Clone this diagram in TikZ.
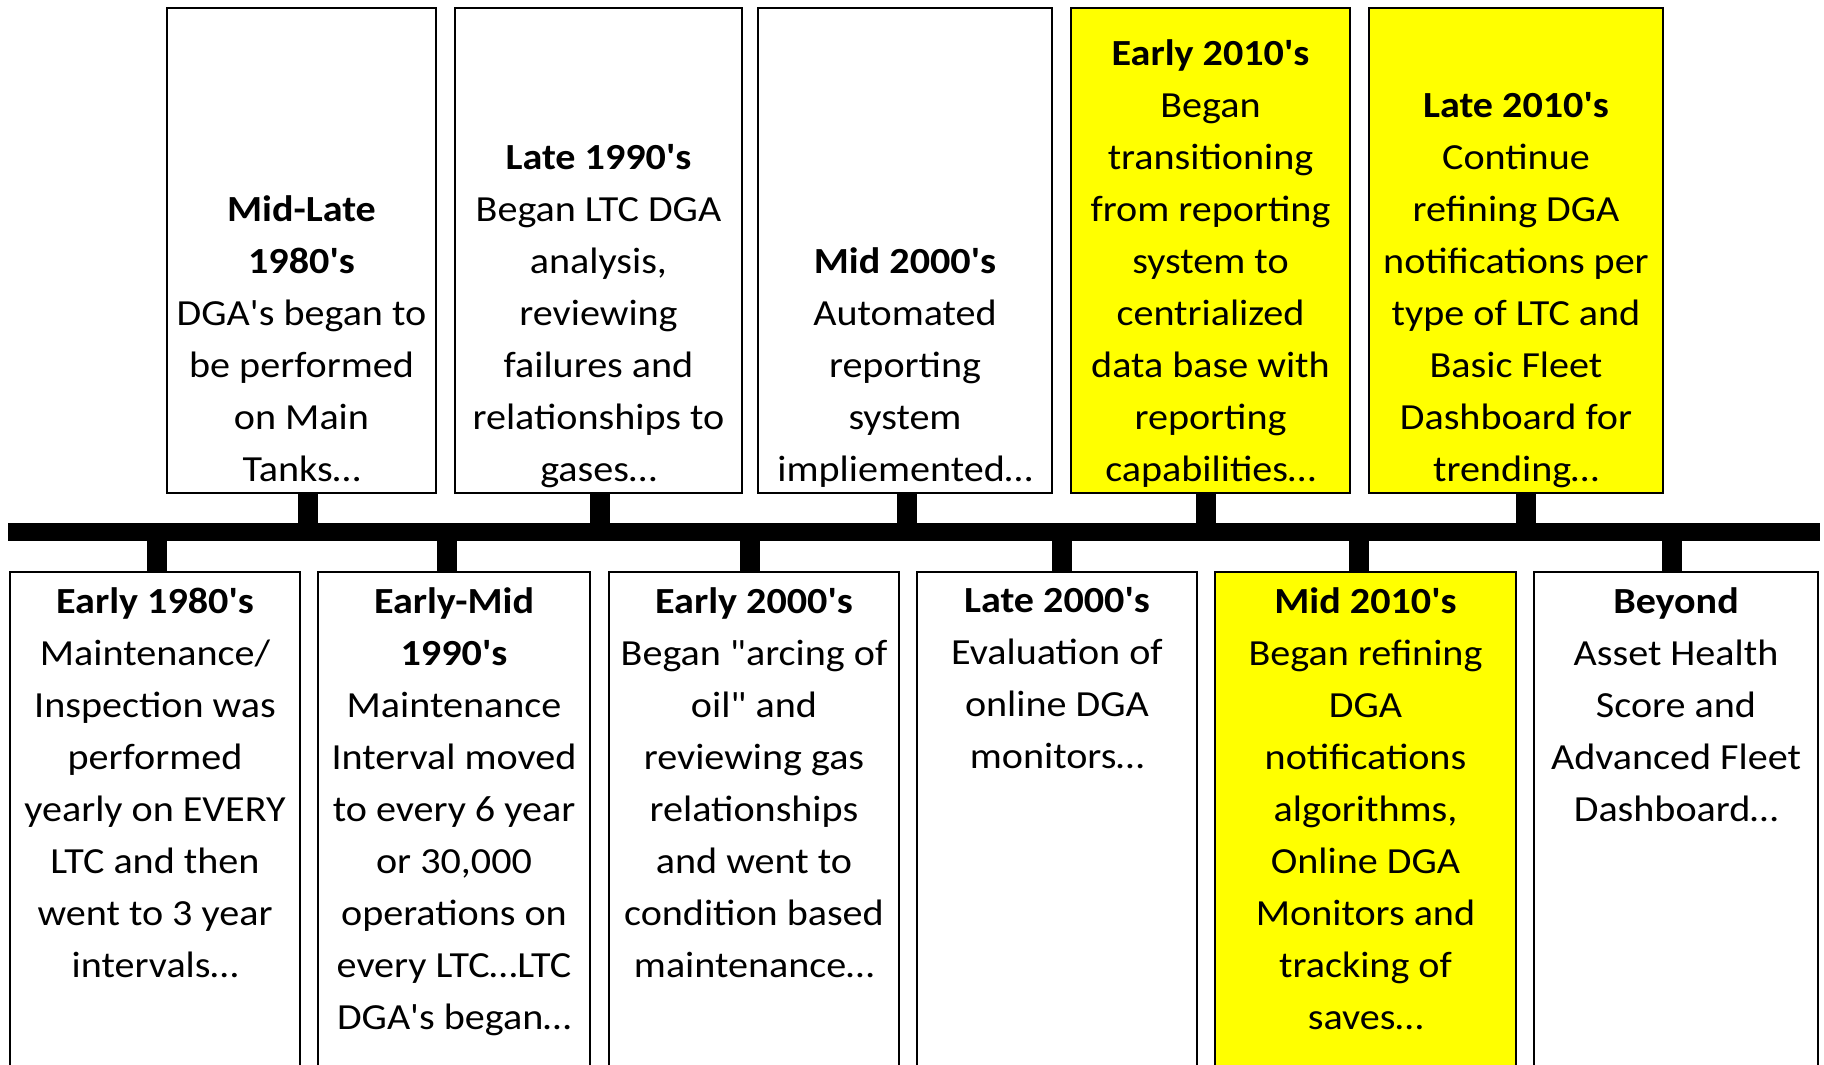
\documentclass[tikz,border=0pt]{standalone}
\usepackage{fontspec}
\newfontfamily\evtfam{Carlito}[FakeStretch=1.09]
\definecolor{hilite}{RGB}{255,255,0}
\newcommand{\evtfont}{\evtfam\fontsize{36.8}{52}\selectfont}
\tikzset{
  evtbox/.style={draw, line width=2pt, fill=white, inner sep=0pt},
  evthi/.style={evtbox, fill=hilite},
  evttxt/.style={font=\evtfont, align=center, inner sep=0pt},
  stemline/.style={line width=20pt},
  timebar/.style={line width=18pt}
}
\begin{document}
\begin{tikzpicture}[x=1pt, y=-1pt]
  \useasboundingbox (0,0) rectangle (1824,1065);
  \clip (0,0) rectangle (1824,1065);
  % upper row
  \node[evtbox, minimum width=269pt, minimum height=485pt] (midlate) at (301.5,250.5) {};
  \node[evtbox, minimum width=287pt, minimum height=485pt] (late90) at (598.5,250.5) {};
  \node[evtbox, minimum width=294pt, minimum height=485pt] (mid00) at (905,250.5) {};
  \node[evthi, minimum width=279pt, minimum height=485pt] (early10) at (1210.5,250.5) {};
  \node[evthi, minimum width=294pt, minimum height=485pt] (late10) at (1516,250.5) {};
  % lower row
  \node[evtbox, minimum width=290pt, minimum height=508pt] (early80) at (155,826) {};
  \node[evtbox, minimum width=272pt, minimum height=508pt] (earlymid90) at (454,826) {};
  \node[evtbox, minimum width=290pt, minimum height=508pt] (early00) at (754,826) {};
  \node[evtbox, minimum width=280pt, minimum height=508pt] (late00) at (1057,826) {};
  \node[evthi, minimum width=301pt, minimum height=508pt] (mid10) at (1365.5,826) {};
  \node[evtbox, minimum width=284pt, minimum height=508pt] (beyond) at (1676,826) {};
  % time line
  \coordinate (barL) at (8,532);
  \coordinate (barR) at (1820,532);
  \draw[timebar] (barL) -- (barR);
  \draw[stemline] ([xshift=6.5pt]midlate.south) -- ([xshift=6.5pt]midlate.south |- barL);
  \draw[stemline] ([xshift=1.5pt]late90.south) -- ([xshift=1.5pt]late90.south |- barL);
  \draw[stemline] ([xshift=2pt]mid00.south) -- ([xshift=2pt]mid00.south |- barL);
  \draw[stemline] ([xshift=-4.5pt]early10.south) -- ([xshift=-4.5pt]early10.south |- barL);
  \draw[stemline] ([xshift=10pt]late10.south) -- ([xshift=10pt]late10.south |- barL);
  \draw[stemline] ([xshift=2pt]early80.north |- barL) -- ([xshift=2pt]early80.north);
  \draw[stemline] ([xshift=-7pt]earlymid90.north |- barL) -- ([xshift=-7pt]earlymid90.north);
  \draw[stemline] ([xshift=-4pt]early00.north |- barL) -- ([xshift=-4pt]early00.north);
  \draw[stemline] ([xshift=5pt]late00.north |- barL) -- ([xshift=5pt]late00.north);
  \draw[stemline] ([xshift=-6.5pt]mid10.north |- barL) -- ([xshift=-6.5pt]mid10.north);
  \draw[stemline] ([xshift=-4pt]beyond.north |- barL) -- ([xshift=-4pt]beyond.north);
  % texts, upper row
  \node[evttxt, anchor=south, text depth=12pt] (midlateT) at (midlate.south)
    {\textbf{Mid-Late}\\\textbf{1980's}\\DGA's began to\\be performed\\on Main\\Tanks…};
  \node[evttxt, anchor=south, text depth=12pt] (late90T) at (late90.south)
    {\textbf{Late 1990's}\\Began LTC DGA\\analysis,\\reviewing\\failures and\\relationships to\\gases…};
  \node[evttxt, anchor=south, text depth=12pt] (mid00T) at (mid00.south)
    {\textbf{Mid 2000's}\\Automated\\reporting\\system\\impliemented…};
  \node[evttxt, anchor=south, text depth=12pt] (early10T) at (early10.south)
    {\textbf{Early 2010's}\\Began\\transitioning\\from reporting\\system to\\centrialized\\data base with\\reporting\\capabilities…};
  \node[evttxt, anchor=south, text depth=12pt] (late10T) at (late10.south)
    {\textbf{Late 2010's}\\Continue\\refining DGA\\notifications per\\type of LTC and\\Basic Fleet\\Dashboard for\\trending…};
  % texts, lower row
  \node[evttxt, anchor=north] (early80T) at ([yshift=-16.5pt]early80.north)
    {\textbf{Early 1980's}\\Maintenance/\\Inspection was\\performed\\yearly on EVERY\\LTC and then\\went to 3 year\\intervals…};
  \node[evttxt, anchor=north] (earlymid90T) at ([yshift=-16.5pt]earlymid90.north)
    {\textbf{Early-Mid}\\\textbf{1990's}\\Maintenance\\Interval moved\\to every 6 year\\or 30,000\\operations on\\every LTC…LTC\\DGA's began…};
  \node[evttxt, anchor=north] (early00T) at ([yshift=-16.5pt]early00.north)
    {\textbf{Early 2000's}\\Began "arcing of\\oil" and\\reviewing gas\\relationships\\and went to\\condition based\\maintenance…};
  \node[evttxt, anchor=north] (late00T) at ([yshift=-16.5pt]late00.north)
    {\textbf{Late 2000's}\\Evaluation of\\online DGA\\monitors…};
  \node[evttxt, anchor=north] (mid10T) at ([yshift=-16.5pt]mid10.north)
    {\textbf{Mid 2010's}\\Began refining\\DGA\\notifications\\algorithms,\\Online DGA\\Monitors and\\tracking of\\saves…};
  \node[evttxt, anchor=north] (beyondT) at ([yshift=-16.5pt]beyond.north)
    {\textbf{Beyond}\\Asset Health\\Score and\\Advanced Fleet\\Dashboard…};
\end{tikzpicture}
\end{document}
